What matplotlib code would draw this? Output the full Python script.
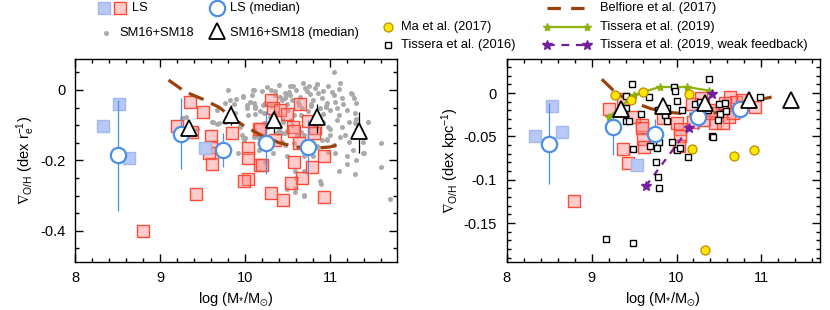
import numpy as np
import matplotlib
matplotlib.use("Agg")
import matplotlib.pyplot as plt
from matplotlib.ticker import MultipleLocator, FuncFormatter

plt.rcParams['font.family'] = ['Liberation Sans', 'DejaVu Sans']
plt.rcParams['mathtext.fontset'] = 'custom'
plt.rcParams['mathtext.rm'] = 'Liberation Sans'
plt.rcParams['mathtext.it'] = 'Liberation Sans:italic'
plt.rcParams['mathtext.sf'] = 'Liberation Sans'
plt.rcParams['mathtext.fallback'] = 'stixsans'
plt.rcParams['font.size'] = 10

# ---------------- data, left panel (dex / r_e) ----------------
ls_blue_x = [8.33, 8.52, 8.635, 9.53]
ls_blue_y = [-0.102, -0.041, -0.194, -0.164]

ls_red_x = [9.35, 9.50, 9.20, 9.38, 9.60, 9.60, 9.57, 9.615, 9.42, 8.80, 9.85, 10.04, 10.04, 10.04,
            9.99, 10.16, 10.17, 10.31, 10.33, 10.41, 10.49, 10.64, 10.18, 10.35, 10.20, 10.56,
            10.57, 10.63, 10.745, 10.82, 10.815, 10.93, 10.57, 10.785, 10.675, 10.54, 10.31,
            10.45, 10.93]
ls_red_y = [-0.035, -0.064, -0.103, -0.12, -0.131, -0.161, -0.178, -0.21, -0.296, -0.40, -0.123,
            -0.166, -0.194, -0.254, -0.26, -0.111, -0.213, -0.030, -0.052, -0.057, -0.068, -0.041,
            -0.111, -0.142, -0.213, -0.104, -0.116, -0.150, -0.087, -0.107, -0.123, -0.1875,
            -0.205, -0.22, -0.249, -0.265, -0.294, -0.3125, -0.303]

ls_med_x = [8.50, 9.25, 9.745, 10.25, 10.745]
ls_med_y = [-0.185, -0.125, -0.170, -0.150, -0.162]
ls_med_lo = [-0.343, -0.225, -0.218, -0.239, -0.239]
ls_med_hi = [-0.028, -0.022, -0.123, -0.060, -0.085]

sm_x = [9.80, 9.98, 9.82, 10.09, 10.20, 10.06, 10.21, 10.12, 10.31, 10.48, 10.02, 9.88, 10.04,
        10.12, 10.22, 9.61, 9.67, 9.76, 9.94, 9.255, 9.96, 10.0, 10.10, 9.92, 10.33, 10.43, 10.47,
        9.97, 10.08, 9.89, 10.02, 9.76, 9.87, 9.67, 9.62, 9.69, 9.31, 9.44, 9.94, 9.97, 9.99,
        10.10, 11.05, 10.71, 10.82, 10.92, 11.04, 11.14, 11.26, 11.28, 11.31, 10.60, 10.53,
        10.47, 10.65, 10.76, 10.80, 10.90, 10.96, 11.06, 11.08, 11.10, 11.20, 11.22, 11.14,
        11.18, 11.29, 11.31, 11.29, 11.22, 11.27, 11.39, 11.39, 11.60, 10.55, 10.49, 10.63,
        10.67, 10.51, 10.45, 10.49, 10.55, 10.61, 10.88, 11.00, 10.92, 10.98, 11.00, 10.96,
        11.04, 11.06, 10.86, 10.90, 10.43, 10.69, 10.47, 10.49, 10.59, 10.69, 10.69, 10.80,
        10.88, 10.89, 10.59, 10.69, 11.10, 11.20, 11.20, 11.30, 11.40, 11.29, 11.60, 11.70,
        10.98, 10.60, 10.49, 10.10, 10.47, 10.24, 10.12, 10.41, 10.29, 10.22, 10.45, 10.10,
        10.37, 10.16, 10.24, 9.27, 10.69, 10.59, 10.35, 10.27, 10.38, 10.75, 10.85, 11.12,
        11.24, 10.95, 10.78, 10.66, 10.39, 10.53, 11.35, 11.45,
        10.26, 10.40, 10.56, 10.68, 10.84, 10.98, 11.10, 10.35, 10.52, 10.73, 10.86, 11.02,
        10.30, 10.44, 10.62, 10.78, 10.95, 11.15, 10.18, 10.36, 10.58, 10.74, 10.92, 11.08,
        10.28, 10.54, 10.82, 11.00, 10.40, 10.66, 10.96, 10.15, 10.33, 10.58, 10.84, 11.12]
sm_y = [0.0, -0.019, -0.030, 0.0, -0.003, -0.033, -0.043, -0.047, 0.0, -0.014, -0.05, -0.066,
        -0.071, -0.069, -0.066, -0.09, -0.097, -0.09, -0.104, -0.08, -0.128, -0.137, -0.114,
        -0.18, -0.18, -0.149, -0.123, -0.016, -0.014, -0.027, -0.043, -0.038, -0.040, -0.057,
        -0.09, -0.093, -0.078, -0.112, -0.102, -0.133, -0.142, -0.038, 0.050, 0.005, 0.005,
        -0.003, -0.014, -0.022, -0.012, -0.024, -0.038, 0.0, -0.014, -0.024, -0.019, -0.012,
        -0.028, -0.024, -0.038, -0.033, -0.052, -0.071, -0.057, -0.09, -0.104, -0.128, -0.066,
        -0.082, -0.095, -0.147, -0.170, -0.149, -0.18, -0.151, -0.028, -0.041, -0.043, -0.052,
        -0.057, -0.09, -0.118, -0.10, -0.128, -0.052, -0.057, -0.09, -0.104, -0.128, -0.142,
        -0.156, -0.18, -0.161, -0.142, -0.123, -0.128, -0.156, -0.189, -0.23, -0.23, -0.189,
        -0.189, -0.26, -0.268, -0.289, -0.298, -0.23, -0.189, -0.21, -0.20, -0.18, -0.24, -0.22,
        -0.31, -0.175, -0.251, -0.282, 0.0, -0.009, -0.038, -0.052, -0.019, -0.076, -0.095,
        -0.085, -0.133, -0.123, -0.17, -0.204, -0.08, -0.30, -0.28, -0.015, -0.105, -0.065,
        0.012, 0.018, 0.02, -0.01, -0.045, -0.045, -0.07, -0.095, 0.01, -0.11, -0.09,
        0.008, 0.015, 0.012, 0.02, 0.018, 0.01, 0.004, -0.004, -0.006, -0.002, -0.008, -0.006,
        -0.045, -0.03, -0.035, -0.04, -0.048, -0.04, -0.06, -0.065, -0.07, -0.06, -0.068, -0.085,
        -0.095, -0.085, -0.1, -0.11, -0.115, -0.12, -0.14, -0.135, -0.145, -0.15, -0.16, -0.135]

sm_med_x = [9.345, 9.84, 10.34, 10.85, 11.345]
sm_med_y = [-0.107, -0.072, -0.085, -0.076, -0.116]
sm_med_lo = [-0.107, -0.101, -0.123, -0.123, -0.180]
sm_med_hi = [-0.107, -0.043, -0.057, -0.041, -0.062]

belf_re_x = [9.1, 9.3, 9.5, 9.7, 9.85, 10.0, 10.2, 10.4, 10.6, 10.8, 11.0, 11.12]
belf_re_y = [0.028, -0.006, -0.026, -0.05, -0.08, -0.104, -0.13, -0.15, -0.162, -0.166, -0.162, -0.154]

# ---------------- data, right panel (dex / kpc) ----------------
ls_blue_kx = [8.53, 8.33, 8.65, 9.53]
ls_blue_ky = [-0.0143, -0.049, -0.045, -0.083]

ls_red_kx = [9.21, 9.37, 9.50, 9.59, 9.595, 9.61, 9.62, 9.37, 9.43, 8.795, 9.84, 10.0, 10.04,
             10.04, 10.03, 10.18, 10.195, 10.29, 10.31, 10.325, 10.45, 10.39, 10.55, 10.62,
             10.635, 10.705, 10.67, 10.93, 10.78, 10.57, 10.42]
ls_red_ky = [-0.0185, -0.007, -0.028, -0.0366, -0.040, -0.053, -0.062, -0.065, -0.081, -0.124,
             -0.029, -0.034, -0.0416, -0.049, -0.061, -0.0124, -0.033, -0.006, -0.0135, -0.031,
             -0.035, -0.020, -0.034, -0.028, -0.004, -0.0097, -0.023, -0.0166, -0.008, -0.0116,
             -0.023]

ls_med_ky = [-0.059, -0.039, -0.047, -0.027, -0.0185]
ls_med_klo = [-0.105, -0.071, -0.056, -0.042, -0.029]
ls_med_khi = [-0.0115, -0.023, -0.030, -0.0115, -0.008]

sm_med_ky = [-0.0185, -0.0143, -0.0116, -0.0085, -0.0077]
sm_med_klo = [-0.022, -0.019, -0.016, -0.012, -0.0077]
sm_med_khi = [-0.015, -0.010, -0.007, -0.005, -0.0077]

ma_x = [9.27, 9.46, 9.61, 10.145, 10.18, 10.675, 10.91, 10.34]
ma_y = [-0.002, -0.0077, 0.001, -0.0008, -0.065, -0.072, -0.0655, -0.181]

t16_x = [9.165, 9.49, 9.27, 9.40, 9.48, 9.41, 9.36, 9.40, 9.44, 9.58, 9.49, 9.69, 9.76, 9.78, 9.79,
         10.38, 9.97, 9.98, 9.68, 10.01, 10.215, 10.28, 9.78, 9.89, 9.86, 9.89, 10.06, 10.30,
         10.37, 10.50, 10.57, 10.51, 10.49, 10.58, 10.98, 10.42, 10.43, 9.95, 9.79, 9.765, 10.0,
         10.04, 10.13]
t16_y = [-0.168, -0.173, -0.040, -0.003, 0.010, -0.017, -0.023, -0.032, -0.032, -0.024, -0.065,
         -0.061, -0.079, -0.097, -0.110, 0.016, 0.0076, 0.003, -0.0046, -0.009, -0.0124, -0.0104,
         -0.020, -0.017, -0.025, -0.032, -0.020, -0.025, -0.020, -0.0124, -0.011, -0.024,
         -0.0316, -0.021, -0.0046, -0.049, -0.051, -0.056, -0.056, -0.0635, -0.0655, -0.0635,
         -0.074]

belf_kpc_x = [9.12, 9.3, 9.5, 9.7, 9.9, 10.1, 10.3, 10.5, 10.7, 10.9, 11.12]
belf_kpc_y = [0.016, -0.001, -0.011, -0.018, -0.022, -0.024, -0.025, -0.022, -0.015, -0.009, -0.0046]

t19_x = [9.2, 9.5, 9.8, 10.12, 10.38]
t19_y = [-0.028, -0.002, 0.007, 0.007, 0.003]

t19w_x = [9.64, 10.15, 10.42]
t19w_y = [-0.107, -0.040, -0.001]

# ---------------- styles ----------------
c_blue_face = '#b9c9f6'
c_blue_edge = '#a3b8f0'
c_red_face = (1.0, 0.55, 0.55, 0.45)
c_red_edge = '#ff4a38'
c_circ = '#4b8fe6'
c_gray = '#aaaaaa'
c_brown = '#9a420c'
c_green = '#8db20c'
c_purple = '#7320a0'

fig = plt.figure(figsize=(8.3, 3.1), dpi=100)
W, H = 830.0, 310.0
ax1 = fig.add_axes([75 / W, (H - 261.7) / H, 322.3 / W, 202.4 / H])
ax2 = fig.add_axes([506.7 / W, (H - 261.7) / H, 313.3 / W, 202.4 / H])


def style_axis(ax, ymaj, ymin):
    ax.xaxis.set_major_locator(MultipleLocator(1))
    ax.xaxis.set_minor_locator(MultipleLocator(0.2))
    ax.yaxis.set_major_locator(MultipleLocator(ymaj))
    ax.yaxis.set_minor_locator(MultipleLocator(ymin))
    ax.tick_params(which='both', direction='in', top=True, right=True, width=1)
    ax.tick_params(which='major', length=6, labelsize=10.5, pad=7)
    ax.tick_params(which='minor', length=3)
    ax.yaxis.set_major_formatter(FuncFormatter(lambda v, p: '%g' % round(v, 4)))
    for s in ax.spines.values():
        s.set_linewidth(1)
    ax.set_xlabel(r'log (M$_{*}$/M$_{\odot}$)', fontsize=10.5, labelpad=4)


sq = dict(marker='s', ms=8, ls='none', mew=1)

# left panel
ax1.plot(sm_x, sm_y, 'o', ms=3.6, color=c_gray, mec='none', zorder=1)
ax1.plot(ls_red_x, ls_red_y, mfc=c_red_face, mec=c_red_edge, zorder=2, **sq)
ax1.plot(ls_blue_x, ls_blue_y, mfc=c_blue_face, mec=c_blue_edge, zorder=2, **sq)
ax1.plot(belf_re_x, belf_re_y, color=c_brown, lw=2.3, dashes=(5, 2.6), zorder=3)
ax1.vlines(ls_med_x, ls_med_lo, ls_med_hi, color=c_circ, lw=0.9, zorder=4)
ax1.plot(ls_med_x, ls_med_y, 'o', ms=11, mfc='white', mec=c_circ, mew=1.6, zorder=5)
ax1.vlines(sm_med_x, sm_med_lo, sm_med_hi, color='black', lw=0.9, zorder=4)
ax1.plot(sm_med_x, sm_med_y, '^', ms=12, mfc='white', mec='black', mew=1.3, zorder=6)
ax1.set_xlim(8, 11.79)
ax1.set_ylim(-0.488, 0.087)
style_axis(ax1, 0.2, 0.05)
ax1.set_ylabel(r'$\nabla_{\rm O/H}$ (dex r$_{\rm e}^{-1}$)', fontsize=10.5, labelpad=2)

# right panel
ax2.plot(ls_red_kx, ls_red_ky, mfc=c_red_face, mec=c_red_edge, zorder=2, **sq)
ax2.plot(ls_blue_kx, ls_blue_ky, mfc=c_blue_face, mec=c_blue_edge, zorder=2, **sq)
ax2.plot(belf_kpc_x, belf_kpc_y, color=c_brown, lw=2.3, dashes=(5, 2.6), zorder=3)
ax2.plot(t19_x, t19_y, '-*', color=c_green, lw=1.6, ms=6, zorder=3)
ax2.plot(t19w_x, t19w_y, '--*', color=c_purple, lw=1.6, ms=7, dashes=(3, 3), zorder=3)
ax2.plot(t16_x, t16_y, 's', ms=4, mfc='white', mec='black', mew=1, zorder=4)
ax2.plot(ma_x, ma_y, 'o', ms=6.5, mfc='#ffe800', mec='#c08a00', mew=0.9, zorder=5)
ax2.vlines(ls_med_x, ls_med_klo, ls_med_khi, color=c_circ, lw=0.9, zorder=4)
ax2.plot(ls_med_x, ls_med_ky, 'o', ms=11, mfc='white', mec=c_circ, mew=1.6, zorder=6)
ax2.vlines(sm_med_x, sm_med_klo, sm_med_khi, color='black', lw=0.9, zorder=4)
ax2.plot(sm_med_x, sm_med_ky, '^', ms=12, mfc='white', mec='black', mew=1.3, zorder=7)
ax2.set_xlim(8, 11.69)
ax2.set_ylim(-0.1945, 0.039)
style_axis(ax2, 0.05, 0.01)
ax2.set_ylabel(r'$\nabla_{\rm O/H}$ (dex kpc$^{-1}$)', fontsize=10.5, labelpad=2)

# legend drawn in a pixel-space overlay
lg = fig.add_axes([0, 0, 1, 1], zorder=10)
lg.set_xlim(0, W)
lg.set_ylim(H, 0)
lg.axis('off')
fs = 9.3
lg.plot([104], [8], mfc=c_blue_face, mec=c_blue_edge, **sq)
lg.plot([120], [8], mfc=c_red_face, mec=c_red_edge, **sq)
lg.text(132, 8, 'LS', va='center', fontsize=fs)
lg.plot([217], [8], 'o', ms=11, mfc='white', mec=c_circ, mew=1.6)
lg.text(230, 8, 'LS (median)', va='center', fontsize=fs)
lg.plot([106], [33], 'o', ms=3.6, color=c_gray, mec='none')
lg.text(119, 33, 'SM16+SM18', va='center', fontsize=fs)
lg.plot([217], [31], '^', ms=12, mfc='white', mec='black', mew=1.3)
lg.text(230, 33, 'SM16+SM18 (median)', va='center', fontsize=fs)
lg.plot([388], [27], 'o', ms=6.5, mfc='#ffe800', mec='#c08a00', mew=0.9)
lg.text(401, 27, 'Ma et al. (2017)', va='center', fontsize=fs)
lg.plot([388], [45], 's', ms=4, mfc='white', mec='black', mew=1)
lg.text(401, 45, 'Tissera et al. (2016)', va='center', fontsize=fs)
lg.plot([547, 587], [8, 8], color=c_brown, lw=2.3, dashes=(4.2, 3.2))
lg.text(600, 8, 'Belfiore et al. (2017)', va='center', fontsize=fs)
lg.plot([547, 587], [27, 27], '-*', color=c_green, lw=1.6, ms=6)
lg.text(600, 27, 'Tissera et al. (2019)', va='center', fontsize=fs)
lg.plot([547, 587], [45, 45], '--*', color=c_purple, lw=1.6, ms=7, dashes=(3.5, 3))
lg.text(600, 45, 'Tissera et al. (2019, weak feedback)', va='center', fontsize=fs)

fig.savefig('out.png', dpi=100)
